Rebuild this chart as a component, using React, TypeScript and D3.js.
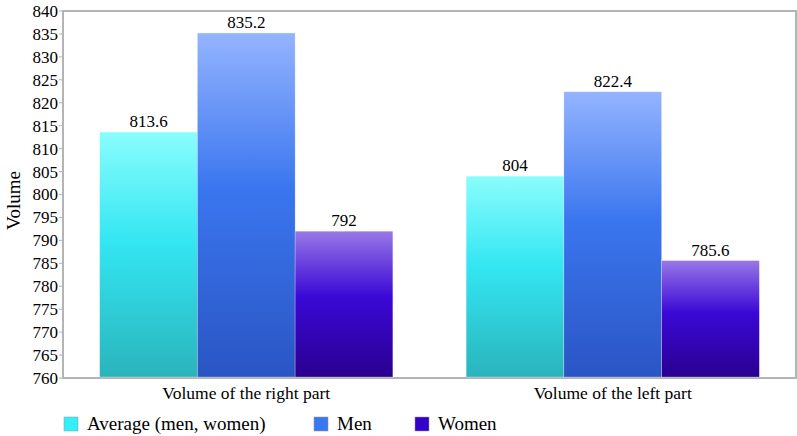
import React from "react";
import * as d3 from "d3";

const categories = ["Volume of the right part", "Volume of the left part"];
const seriesNames = ["Average (men, women)", "Men", "Women"];
const averageValues = [813.6, 804];
const menValues = [835.2, 822.4];
const womenValues = [792, 785.6];
const valueLabels = [["813.6", "804"], ["835.2", "822.4"], ["792", "785.6"]];
const yTicks = [760, 765, 770, 775, 780, 785, 790, 795, 800, 805, 810, 815, 820, 825, 830, 835, 840];

const seriesValues = [averageValues, menValues, womenValues];
const gradStops = [
  ["#8afdfd", "#33e6f2", "#2ab4bc"],
  ["#94b4ff", "#3b76ef", "#2a55c4"],
  ["#9878e6", "#3a08d6", "#2a0090"],
];
const swatch = ["#35eef8", "#3a78f2", "#3300cc"];

const W = 797, H = 436;
const left = 63, right = 796, top = 11, bottom = 378;
const font = "Liberation Serif, DejaVu Serif, serif";
const ts = { fontFamily: font };

export default function App() {
  const x0 = d3.scaleBand().domain(categories).range([left, right]).paddingInner(0.2).paddingOuter(0.1);
  const x1 = d3.scaleBand().domain(seriesNames).range([0, x0.bandwidth()]);
  const y = d3.scaleLinear().domain([760, 840]).range([bottom, top]);

  return (
    <svg width={W} height={H} style={{ position: "absolute", left: 0, top: 0, background: "#fff", fontFamily: font }}>
      <defs>
        {gradStops.map((s, i) => (
          <linearGradient key={i} id={`g${i}`} x1="0" y1="0" x2="0" y2="1">
            <stop offset="0" stopColor={s[0]} />
            <stop offset="0.45" stopColor={s[1]} />
            <stop offset="1" stopColor={s[2]} />
          </linearGradient>
        ))}
      </defs>
      <rect x={left} y={top} width={right - left} height={bottom - top} fill="none" stroke="#b4b4b4" strokeWidth={2} />
      {yTicks.map((t) => (
        <g key={t}>
          <line x1={left - 4} x2={left} y1={y(t)} y2={y(t)} stroke="#b4b4b4" />
          <text x={left - 5} y={y(t)} dy="0.35em" textAnchor="end" style={ts} fontSize={17} fill="#000">{t}</text>
        </g>
      ))}
      {categories.map((c, ci) => (
        <g key={c}>
          {seriesNames.map((s, si) => {
            const v = seriesValues[si][ci];
            const bx = (x0(c) as number) + (x1(s) as number);
            return (
              <g key={s}>
                <rect x={bx} y={y(v)} width={x1.bandwidth()} height={bottom - 1 - y(v)} fill={`url(#g${si})`} stroke="rgba(255,255,255,0.5)" strokeWidth={0.5} />
                <text x={bx + x1.bandwidth() / 2} y={y(v) - 5} textAnchor="middle" style={ts} fontSize={17} fill="#000">{valueLabels[si][ci]}</text>
              </g>
            );
          })}
          <text x={(x0(c) as number) + x0.bandwidth() / 2} y={399} textAnchor="middle" style={ts} fontSize={17.5} fill="#000">{c}</text>
        </g>
      ))}
      <text transform={`translate(20,${(top + bottom) / 2 + 6}) rotate(-90)`} textAnchor="middle" style={ts} fontSize={19} fill="#000">Volume</text>
      {seriesNames.map((s, i) => {
        const lx = [64, 314, 415][i];
        return (
          <g key={s}>
            <rect x={lx} y={417} width={14} height={14} fill={swatch[i]} stroke="#999" strokeWidth={0.5} />
            <text x={lx + 23} y={430} style={ts} fontSize={19} fill="#000">{s}</text>
          </g>
        );
      })}
    </svg>
  );
}
